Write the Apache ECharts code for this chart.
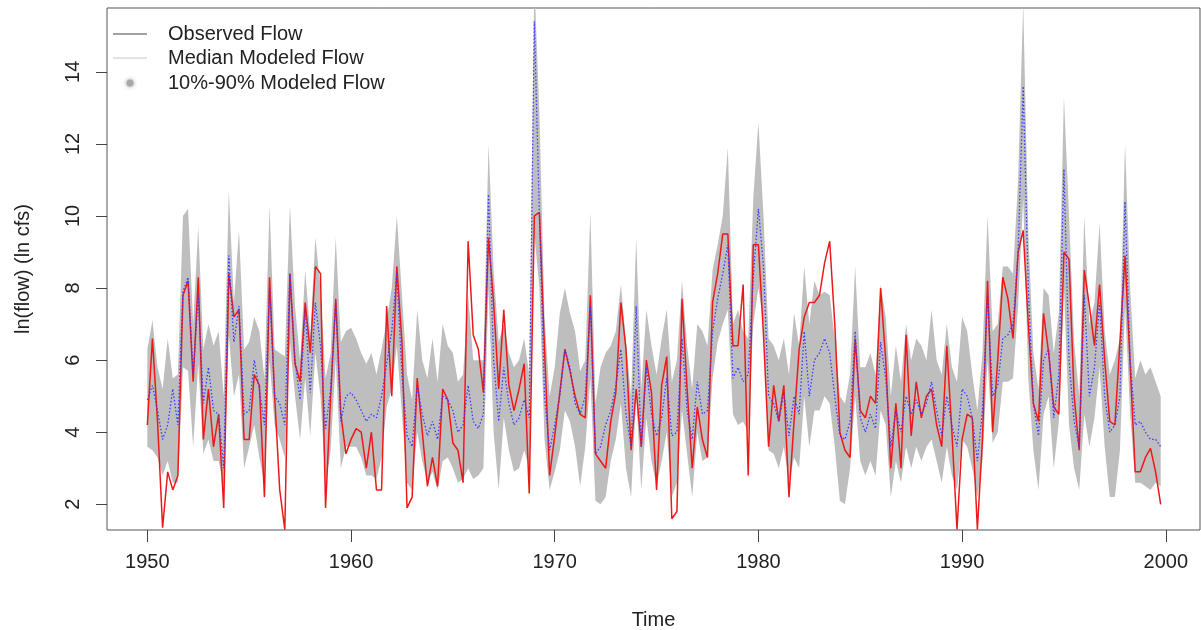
<!DOCTYPE html>
<html>
<head>
<meta charset="utf-8">
<script src="https://cdn.jsdelivr.net/npm/echarts@6.0.0/dist/echarts.min.js"></script>
<style>
  html, body { margin: 0; background: #fff; }
  #main { width: 1201px; height: 630px; }
</style>
</head>
<body>
<div id="main"></div>
<script>
// quarterly series, first value is 1950 Q1
var startYear = 1950;

// observed flow, ln cfs (one row per year)
var observed = [
  4.2, 6.6, 4.3, 1.35,  2.9, 2.4, 2.8, 7.8,  8.2, 5.4, 8.3, 3.8,  5.2, 3.6, 4.5, 1.9,
  8.4, 7.2, 7.4, 3.8,   3.8, 5.6, 5.3, 2.2,  8.3, 5.0, 2.4, 1.3,  8.4, 5.9, 5.4, 7.6,
  6.2, 8.6, 8.4, 1.9,   5.0, 7.7, 4.5, 3.4,  3.8, 4.1, 4.0, 3.0,  4.0, 2.4, 2.4, 7.5,
  5.0, 8.6, 6.5, 1.9,   2.2, 5.5, 4.0, 2.5,  3.3, 2.5, 5.2, 4.9,  3.7, 3.5, 2.6, 9.3,
  6.7, 6.3, 5.1, 9.4,   7.6, 5.2, 7.4, 5.3,  4.6, 5.2, 5.9, 2.3,  10.0, 10.1, 6.3, 2.8,
  3.9, 5.1, 6.3, 5.7,   5.0, 4.5, 4.4, 7.8,  3.4, 3.2, 3.0, 4.3,  5.1, 7.6, 6.3, 3.5,
  5.2, 3.6, 6.0, 5.1,   2.4, 5.3, 6.1, 1.6,  1.8, 7.7, 5.2, 3.0,  4.7, 3.8, 3.3, 7.6,
  8.4, 9.5, 9.5, 6.4,   6.4, 8.1, 2.8, 9.2,  9.2, 6.7, 3.6, 5.3,  4.3, 5.3, 2.2, 4.3,
  6.3, 7.2, 7.6, 7.6,   7.8, 8.7, 9.3, 7.0,  4.0, 3.5, 3.3, 6.6,  4.6, 4.4, 5.0, 4.8,
  8.0, 6.0, 3.0, 4.8,   3.0, 6.7, 3.9, 5.4,  4.4, 5.0, 5.2, 4.2,  3.6, 6.4, 4.0, 1.3,
  3.8, 4.5, 4.4, 1.3,   3.8, 8.2, 4.0, 6.0,  8.3, 7.7, 6.6, 9.0,  9.6, 7.0, 4.8, 4.3,
  7.3, 6.2, 4.7, 4.5,   9.0, 8.8, 5.0, 3.5,  8.5, 7.5, 6.4, 8.1,  6.0, 4.3, 4.2, 6.5,
  8.9, 5.9, 2.9, 2.9,   3.3, 3.55, 2.9, 2.0
];

// median of modeled flow
var median = [
  4.9, 5.3, 4.6, 3.8,   4.2, 5.2, 4.2, 7.9,  8.3, 5.6, 7.8, 4.8,  5.8, 4.6, 4.5, 3.0,
  8.9, 6.5, 7.5, 4.5,   4.6, 6.0, 5.2, 4.2,  8.0, 5.0, 4.8, 4.2,  8.4, 6.0, 4.9, 7.4,
  5.1, 7.6, 6.4, 4.1,   5.2, 7.6, 4.3, 5.0,  5.1, 4.9, 4.6, 4.3,  4.5, 4.4, 5.0, 5.9,
  6.8, 8.4, 5.6, 3.9,   3.6, 5.3, 4.5, 3.9,  4.3, 3.8, 5.0, 4.9,  4.6, 4.0, 4.2, 5.3,
  4.3, 4.1, 4.5, 10.6,  6.0, 4.3, 5.8, 4.8,  4.2, 4.4, 4.9, 4.4,  15.4, 10.0, 5.0, 3.5,
  4.2, 5.0, 6.3, 5.8,   4.8, 4.5, 5.0, 7.5,  3.4, 3.6, 4.2, 4.6,  5.3, 6.3, 4.5, 3.6,
  7.5, 3.6, 5.8, 4.5,   3.9, 4.4, 5.5, 3.9,  4.0, 6.6, 4.6, 3.8,  5.4, 4.5, 4.6, 6.8,
  7.7, 8.4, 9.2, 5.5,   5.8, 5.4, 5.6, 8.3,  10.2, 8.6, 5.0, 4.8, 4.3, 5.1, 3.9, 5.0,
  4.5, 6.8, 5.0, 6.0,   6.2, 6.6, 6.2, 5.0,  3.9, 3.8, 4.3, 6.8,  4.4, 4.0, 4.5, 4.1,
  6.5, 5.5, 3.6, 4.6,   4.0, 5.0, 4.5, 4.9,  4.5, 4.8, 5.4, 4.6,  3.9, 5.0, 4.2, 3.6,
  5.2, 5.0, 4.4, 3.2,   4.6, 7.8, 5.0, 5.3,  6.6, 6.7, 7.0, 9.0,  13.6, 8.0, 4.8, 3.9,
  6.0, 6.3, 4.4, 5.6,   11.3, 6.0, 4.3, 3.6, 7.8, 5.0, 5.8, 7.6,  5.0, 4.0, 4.2, 5.0,
  10.4, 6.0, 4.2, 4.3,  4.0, 3.8, 3.8, 3.6
];

// 10% modeled flow
var p10 = [
  3.6, 3.5, 3.3, 2.8,   3.2, 2.6, 2.6, 5.8,  5.7, 3.6, 5.9, 3.4,  3.8, 3.2, 3.2, 2.5,
  6.7, 5.0, 5.6, 3.0,   3.6, 4.2, 3.3, 2.6,  6.0, 4.2, 3.8, 3.3,  6.5, 5.0, 3.8, 5.5,
  3.9, 6.2, 5.0, 2.5,   3.5, 6.0, 3.0, 3.6,  3.6, 3.6, 3.3, 2.8,  2.8, 2.7, 3.3, 4.7,
  5.2, 6.4, 4.5, 2.6,   2.4, 4.0, 3.2, 2.6,  2.9, 2.4, 3.2, 3.3,  3.0, 2.6, 2.7, 3.0,
  2.7, 2.8, 3.0, 8.0,   4.0, 2.4, 4.4, 3.5,  2.9, 3.0, 3.5, 3.0,  9.5, 8.0, 3.8, 2.4,
  2.9, 3.5, 4.6, 4.3,   3.6, 2.5, 3.6, 5.5,  2.1, 2.0, 2.2, 3.2,  3.8, 4.8, 3.0, 2.2,
  5.0, 2.4, 4.4, 3.2,   2.5, 3.2, 4.0, 2.2,  2.6, 4.6, 3.4, 2.2,  4.0, 3.2, 3.3, 5.5,
  6.5, 7.0, 7.4, 4.5,   4.2, 4.3, 4.0, 7.0,  8.0, 7.0, 3.5, 3.4,  3.0, 3.6, 2.6, 3.3,
  3.0, 5.0, 3.6, 4.6,   4.6, 5.0, 4.8, 3.6,  2.1, 2.0, 3.0, 5.0,  3.2, 2.8, 3.2, 2.8,
  4.6, 4.2, 2.2, 3.2,   2.6, 3.6, 3.0, 3.6,  3.2, 3.6, 3.8, 3.2,  2.6, 3.6, 2.8, 2.4,
  3.8, 3.6, 3.0, 2.2,   3.2, 6.0, 3.7, 4.0,  5.4, 5.4, 5.5, 7.5,  10.5, 5.5, 3.5, 2.4,
  4.5, 5.0, 3.0, 4.3,   8.0, 4.2, 3.0, 2.4,  4.5, 3.6, 4.4, 5.8,  3.6, 2.2, 2.2, 3.5,
  7.5, 4.5, 2.6, 2.6,   2.5, 2.4, 2.6, 2.5
];

// 90% modeled flow
var p90 = [
  6.3, 7.1, 5.8, 5.2,   6.6, 5.5, 5.6, 10.0, 10.2, 7.0, 9.7, 6.3,  7.0, 6.4, 6.8, 5.0,
  10.7, 7.6, 9.6, 6.3,  6.5, 7.2, 6.8, 5.5,  10.3, 6.3, 6.2, 6.1,  10.3, 7.5, 6.0, 8.5,
  6.7, 9.4, 8.0, 5.5,   6.2, 9.4, 6.5, 6.8,  6.9, 6.6, 6.2, 5.9,  6.2, 5.6, 6.3, 7.1,
  8.0, 10.0, 7.8, 5.6,  4.9, 7.4, 6.0, 5.5,  6.6, 5.4, 7.0, 6.4,  6.2, 5.4, 5.6, 7.8,
  6.0, 6.0, 6.0, 12.0,  8.5, 6.5, 7.0, 6.2,  5.8, 6.0, 6.6, 5.6,  16.5, 12.8, 7.2, 5.0,
  5.8, 7.3, 8.0, 7.3,   6.8, 5.7, 6.0, 10.1, 4.8, 5.8, 6.2, 6.4,  6.8, 8.1, 6.5, 5.0,
  9.4, 5.2, 7.4, 6.4,   5.6, 6.6, 7.4, 5.4,  6.0, 8.2, 6.4, 5.2,  7.0, 6.8, 6.4, 8.5,
  9.2, 10.0, 11.9, 7.0, 7.4, 6.8, 6.6, 10.5, 12.6, 10.0, 6.6, 6.4, 6.0, 6.6, 5.6, 7.3,
  6.4, 8.6, 7.0, 8.2,   7.8, 7.9, 7.8, 6.6,  5.0, 4.8, 5.6, 8.6,  5.8, 5.8, 6.2, 5.6,
  8.1, 7.2, 5.0, 6.4,   5.4, 7.0, 6.0, 6.6,  6.4, 6.0, 7.4, 6.0,  5.6, 7.0, 5.8, 5.4,
  7.2, 6.8, 5.6, 4.6,   6.2, 10.0, 6.8, 7.0, 8.6, 8.6, 8.4, 11.0, 15.9, 9.5, 6.2, 5.2,
  8.0, 7.8, 6.2, 7.3,   13.3, 10.0, 6.5, 5.0, 10.0, 7.0, 7.6, 9.8, 6.8, 5.6, 6.0, 6.6,
  12.0, 8.0, 5.5, 6.0,  5.6, 5.8, 5.4, 5.0
];

var xTicks = [1950, 1960, 1970, 1980, 1990, 2000];
var yTicks = [2, 4, 6, 8, 10, 12, 14];

var times = observed.map(function (v, i) { return startYear + i / 4; });
var font = 'Liberation Sans, Arial, Helvetica, sans-serif';

var chart = echarts.init(document.getElementById('main'));

var option = {
  animation: false,
  backgroundColor: '#fff',
  textStyle: { fontFamily: font },
  grid: {
    left: 107, top: 8, width: 1093, height: 522,
    outerBoundsMode: 'none',
    containLabel: false,
    show: true, borderColor: '#555', borderWidth: 1, backgroundColor: 'transparent'
  },
  xAxis: {
    type: 'value',
    min: 1948.02,
    max: 2001.68,
    name: 'Time',
    nameLocation: 'middle',
    nameGap: 80,
    nameTextStyle: { fontSize: 20, color: '#222', fontFamily: font },
    axisLine: { show: false },
    splitLine: { show: false },
    axisTick: { customValues: xTicks, length: 12, lineStyle: { color: '#444' } },
    axisLabel: {
      customValues: xTicks, margin: 22, fontSize: 20, color: '#222', fontFamily: font,
      formatter: function (v) { return String(v); }
    }
  },
  yAxis: {
    type: 'value',
    min: 1.287,
    max: 15.77,
    name: 'ln(flow) (ln cfs)',
    nameLocation: 'middle',
    nameGap: 74,
    nameTextStyle: { fontSize: 20, color: '#222', fontFamily: font },
    axisLine: { show: false },
    splitLine: { show: false },
    axisTick: { customValues: yTicks, length: 11, lineStyle: { color: '#444' } },
    axisLabel: {
      customValues: yTicks, rotate: 90, margin: 24, fontSize: 20, color: '#222', fontFamily: font,
      formatter: function (v) { return String(v); }
    }
  },
  series: [
    {
      name: '10%-90% Modeled Flow',
      type: 'custom',
      clip: true,
      silent: true,
      z: 1,
      data: [[times[0], p10[0]]],
      renderItem: function (params, api) {
        var pts = [];
        for (var i = 0; i < times.length; i++) pts.push(api.coord([times[i], p90[i]]));
        for (var j = times.length - 1; j >= 0; j--) pts.push(api.coord([times[j], p10[j]]));
        return { type: 'polygon', shape: { points: pts }, style: { fill: '#bebebe' } };
      }
    },
    {
      name: 'Observed Flow',
      type: 'line',
      z: 3,
      symbol: 'none',
      data: times.map(function (t, i) { return [t, observed[i]]; }),
      lineStyle: { color: '#ee1818', width: 1.5 }
    },
    {
      name: 'Median Modeled Flow',
      type: 'line',
      z: 4,
      symbol: 'none',
      data: times.map(function (t, i) { return [t, median[i]]; }),
      lineStyle: { color: '#3a3aff', width: 1.3, type: [1.5, 2] }
    }
  ],
  graphic: [
    { type: 'line', shape: { x1: 113, y1: 34, x2: 147, y2: 34 }, style: { stroke: '#444', lineWidth: 1 } },
    { type: 'line', shape: { x1: 113, y1: 58, x2: 147, y2: 58 }, style: { stroke: '#c8c8c8', lineWidth: 1 } },
    { type: 'circle', shape: { cx: 130, cy: 83, r: 3.5 }, style: { fill: '#a8a8a8', shadowBlur: 4, shadowColor: '#999' } },
    { type: 'text', left: 168, top: 24, style: { text: 'Observed Flow', font: '20px ' + font, fill: '#222' } },
    { type: 'text', left: 168, top: 48, style: { text: 'Median Modeled Flow', font: '20px ' + font, fill: '#222' } },
    { type: 'text', left: 168, top: 73, style: { text: '10%-90% Modeled Flow', font: '20px ' + font, fill: '#222' } }
  ]
};

chart.setOption(option);
</script>
</body>
</html>
